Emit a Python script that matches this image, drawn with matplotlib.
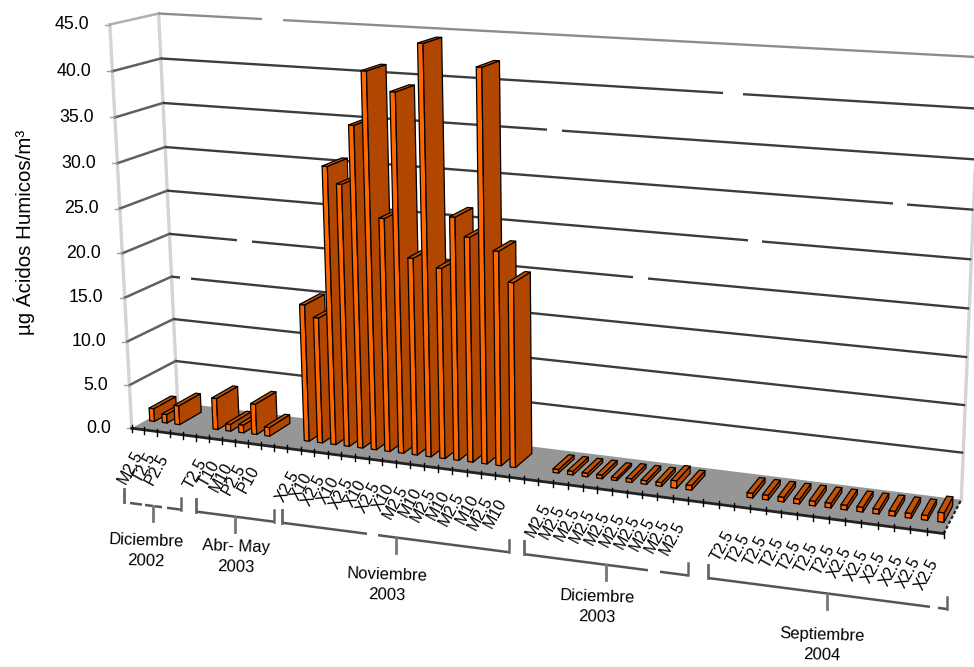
import numpy as np
import matplotlib
matplotlib.use("Agg")
import matplotlib.pyplot as plt

plt.rcParams["font.family"] = ["Liberation Sans", "DejaVu Sans"]

# one entry per category slot along the floor, None leaves a blank slot
labels = (
    ["M2.5", "T2.5", "P2.5", None, None]
    + ["T2.5", "T10", "M10", "P2.5", "P10", None, None]
    + ["X2.5", "X10", "X2.5", "X10", "X2.5", "X10", "X2.5", "X10",
       "M2.5", "M10", "M2.5", "M10", "M2.5", "M10", "M2.5", "M10", None, None]
    + ["M2.5"] * 10 + [None, None, None]
    + ["T2.5"] * 7 + ["X2.5"] * 6
)
values = (
    [1.5, 1.0, 2.2, None, None]
    + [3.6, 0.8, 0.9, 3.5, 1.0, None, None]
    + [15.4, 14.1, 30.8, 29.0, 35.4, 41.2, 25.7, 39.2,
       21.7, 44.4, 20.9, 26.5, 24.5, 42.3, 23.3, 20.1, None, None]
    + [0.4, 0.4, 0.4, 0.4, 0.3, 0.4, 0.4, 0.4, 0.8, 0.5] + [None, None, None]
    + [0.5, 0.5, 0.5, 0.5, 0.5, 0.5, 0.5, 0.5, 0.5, 0.5, 0.5, 0.5, 1.0]
)
y_ticks = [0, 5, 10, 15, 20, 25, 30, 35, 40, 45]
groups = [
    ("Diciembre\n2002", -0.6, 3.9),
    ("Abr- May\n2003", 5.0, 11.0),
    ("Noviembre\n2003", 11.6, 28.0),
    ("Diciembre\n2003", 29.0, 40.0),
    ("Septiembre\n2004", 41.3, 56.2),
]
group_text = [(146, 551), (236, 557), (387, 585), (597, 607), (822, 645)]
# stretches that are missing from each back wall line, in figure x
grid_gaps = {
    45: [(262, 283)],
    40: [(723, 743)],
    35: [(547, 562)],
    30: [(893, 907)],
    25: [(748, 762)],
    20: [(237, 252), (633, 648)],
    15: [(180, 191)],
}
# same for the brackets, one list per group
bracket_gaps = [
    [(126, 130), (142, 145), (153, 155), (162, 167)],
    [],
    [(367, 378)],
    [(648, 660)],
    [(930, 938)],
]

n_slots = len(labels)
y_max = 45.0
bar_w = 0.38
depth0, depth1 = 0.30, 0.78
last_group_start = 43

FRONT = "#ff6600"
SIDE = "#b04600"
TOP = "#c85200"
FLOOR = "#969696"
WALL = "#d4d4d4"
GRID = "#3c3c3c"

# box corners and where they land on the figure, used to solve the camera
anchors = [
    ((0, 0, 0), (131, 428)),
    ((0, 1, 0), (178, 403)),
    ((1, 0, 0), (943, 535)),
    ((1, 1, 0), (962, 498)),
    ((0, 0, 1), (110, 24)),
    ((0, 1, 1), (158, 14)),
    ((1, 1, 1), (980, 57)),
    ((0, 0, 5 / 9), (121, 208)),
    ((0, 1, 5 / 9), (167, 191)),
    ((1, 1, 5 / 9), (971, 260)),
]


def solve_camera(pairs):
    rows = []
    for (x, d, v), (u, w) in pairs:
        p = [x, d, v, 1]
        rows.append(p + [0, 0, 0, 0] + [-u * c for c in p])
        rows.append([0, 0, 0, 0] + p + [-w * c for c in p])
    _, _, vt = np.linalg.svd(np.array(rows, dtype=float))
    return vt[-1].reshape(3, 4)


camera = solve_camera(anchors)


def project(slot, depth, value):
    """Figure position of a point given in slots, floor depth and axis units."""
    p = camera @ np.array([slot / n_slots, depth, value / y_max, 1.0])
    return p[0] / p[2], p[1] / p[2]


def line3d(ax, a, b, **kw):
    pa, pb = project(*a), project(*b)
    ax.plot([pa[0], pb[0]], [pa[1], pb[1]], **kw)


def broken_line(ax, start, stop, gaps, **kw):
    """Straight line from start to stop, left out over the given x ranges."""
    slope = (stop[1] - start[1]) / (stop[0] - start[0])
    edges = [start[0]]
    for a, b in gaps:
        edges += [a, b]
    edges.append(stop[0])
    for a, b in zip(edges[::2], edges[1::2]):
        ax.plot([a, b], [start[1] + slope * (a - start[0]), start[1] + slope * (b - start[0])],
                solid_capstyle="butt", **kw)


def draw_bar(ax, slot, value):
    x0, x1 = slot + 0.5 - bar_w / 2, slot + 0.5 + bar_w / 2
    faces = [
        ([(x0, depth0, 0), (x1, depth0, 0), (x1, depth0, value), (x0, depth0, value)], FRONT),
        ([(x1, depth0, 0), (x1, depth1, 0), (x1, depth1, value), (x1, depth0, value)], SIDE),
        ([(x0, depth0, value), (x1, depth0, value), (x1, depth1, value), (x0, depth1, value)], TOP),
    ]
    for corners, colour in faces:
        ax.fill(*zip(*[project(*c) for c in corners]), facecolor=colour,
                edgecolor="black", linewidth=0.9, joinstyle="round", zorder=5)


fig = plt.figure(figsize=(9.74, 6.67), dpi=100)
ax = fig.add_axes([0, 0, 1, 1])
ax.set_xlim(0, 974)
ax.set_ylim(667, 0)
ax.axis("off")

# walls
for slot, depth in [(0, 0), (0, 1), (n_slots, 1)]:
    line3d(ax, (slot, depth, 0), (slot, depth, y_max), color=WALL, lw=2.4, zorder=1)

for v in y_ticks[1:]:
    top_line = v == 45
    line3d(ax, (0, 0, v), (0, 1, v), color="#b0b0b0" if top_line else "#606060", lw=1.8, zorder=2)
    broken_line(ax, project(0, 1, v), project(n_slots, 1, v), grid_gaps.get(v, []),
                color="#8c8c8c" if top_line else GRID, lw=1.7, zorder=2)

# floor
corners = [(0, 0, 0), (0, 1, 0), (n_slots, 1, 0), (n_slots, 0, 0)]
ax.fill(*zip(*[project(*c) for c in corners]), facecolor=FLOOR, edgecolor="none", zorder=3)
line3d(ax, (0, 0, 0), (n_slots, 0, 0), color="#222222", lw=2.0, zorder=4)
line3d(ax, (n_slots, 0, 0), (n_slots, 1, 0), color="#222222", lw=1.6, ls=(0, (1.5, 1)), zorder=4)

for s in range(n_slots + 1):
    px, py = project(s, 0, 0)
    ax.plot([px, px], [py - 3, py + 4], color="black", lw=1.0, zorder=4)

for s, v in enumerate(values):
    if v is not None:
        draw_bar(ax, s, v)

# value axis
for v in y_ticks:
    px, py = project(0, 0, v)
    ax.plot([px - 5, px], [py, py], color="#a0a0a0", lw=1.0, zorder=2)
    ax.text(px - 21, py, f"{v:.1f}", ha="right", va="center", fontsize=12.8, color="black")

ax.text(24, 232, "µg Ácidos Humicos/m³", rotation=90, ha="center", va="center", fontsize=14.8)

# category labels hang from the front edge, the last group is spread a bit wider
for s, name in enumerate(labels):
    if name is None:
        continue
    px, py = project(s + 0.5, 0, 0)
    dx, dy = 1, 23
    if s >= last_group_start:
        t = (s - last_group_start) / (n_slots - 1 - last_group_start)
        dx += -13 + 11 * t
        dy += 2 + 3 * t
    ax.text(px + dx, py + dy, name, rotation=61, ha="right", va="center",
            rotation_mode="anchor", fontsize=11.5)

# group brackets follow the front edge 75 px lower
for (name, first, last), (tx, ty), gaps in zip(groups, group_text, bracket_gaps):
    x0, y0 = project(first, 0, 0)
    x1, y1 = project(last, 0, 0)
    y0 += 75
    y1 += 75
    mid_x, mid_y = (x0 + x1) / 2, (y0 + y1) / 2
    broken_line(ax, (x0, y0), (x1, y1), gaps, color="#555555", lw=1.8)
    ax.plot([x0, x0], [y0 - 13, y0], color="#666666", lw=2.0)
    ax.plot([x1, x1], [y1 - 12, y1], color="#666666", lw=1.8)
    ax.plot([mid_x, mid_x], [mid_y, mid_y + 15], color="#777777", lw=2.0)
    ax.text(tx, ty, name, ha="center", va="center", fontsize=12, rotation=-2, linespacing=1.5)

fig.savefig("out.png", dpi=100)
